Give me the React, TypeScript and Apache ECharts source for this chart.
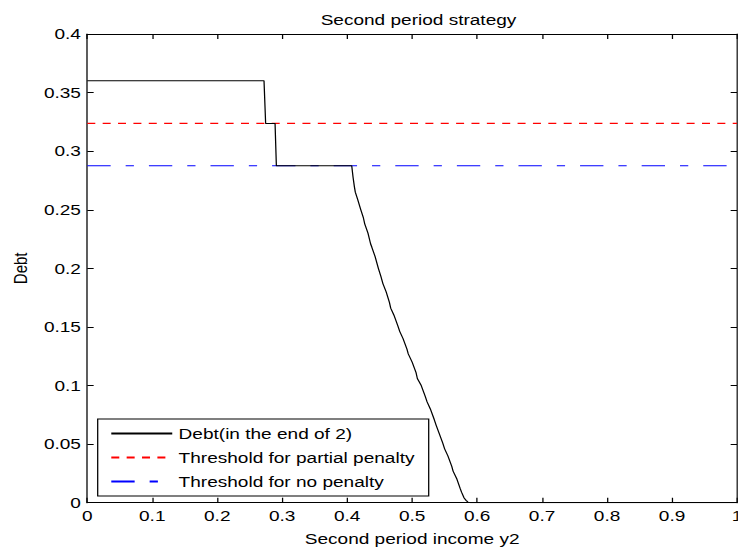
import React, { useEffect, useRef } from "react";
import * as echarts from "echarts";

// ---- data ----
const incomeY2 = [
  0, 0.272, 0.2745, 0.289, 0.291, 0.407, 0.409, 0.411, 0.4125, 0.416, 0.421,
  0.425, 0.427, 0.432, 0.436, 0.438, 0.443, 0.448, 0.452, 0.455, 0.46, 0.465,
  0.467, 0.472, 0.478, 0.481, 0.486, 0.492, 0.494, 0.5, 0.506, 0.508, 0.514,
  0.52, 0.523, 0.528, 0.534, 0.537, 0.541, 0.547, 0.55, 0.555, 0.561, 0.563,
  0.569, 0.574, 0.576, 0.58, 0.583, 0.586, 0.59, 1.0,
];
const debtEnd2 = [
  0.36, 0.36, 0.3237, 0.3237, 0.2875, 0.2875, 0.278, 0.27, 0.265, 0.259, 0.25,
  0.243, 0.238, 0.23, 0.221, 0.218, 0.21, 0.2, 0.193, 0.187, 0.18, 0.171,
  0.166, 0.16, 0.151, 0.146, 0.14, 0.131, 0.127, 0.12, 0.111, 0.106, 0.1,
  0.091, 0.086, 0.08, 0.071, 0.066, 0.06, 0.051, 0.046, 0.04, 0.031, 0.027,
  0.02, 0.012, 0.009, 0.004, 0.002, 0.0005, 0, 0,
];
const partialPenaltyThreshold = 0.3237;
const noPenaltyThreshold = 0.2875;
const xRange = [0, 1];
const xStep = 0.1;
const yRange = [0, 0.4];
const yStep = 0.05;
const seriesNames = [
  "Debt(in the end of 2)",
  "Threshold for partial penalty",
  "Threshold for no penalty",
];

// ---- layout ----
const SCALE_X = 1.27;
const CHART_W = 738 / SCALE_X;
const CHART_H = 553;
const FONT = "'Liberation Sans', Arial, Helvetica, sans-serif";

const fmt = (v: number) => String(Math.round(v * 1000) / 1000);

export default function App() {
  const ref = useRef<HTMLDivElement>(null);

  useEffect(() => {
    if (!ref.current) return;
    const chart = echarts.init(ref.current, undefined, {
      renderer: "svg",
      width: CHART_W,
      height: CHART_H,
    });
    const plotLeft = 87.3 / SCALE_X;
    const plotRight = 737 / SCALE_X;

    const axisCommon = {
      axisLine: { show: true, onZero: false, lineStyle: { color: "#000", width: 1 } },
      axisTick: { show: true, inside: true, length: 5, lineStyle: { color: "#000", width: 1 } },
      splitLine: { show: false },
    };

    const option: any = {
      animation: false,
      backgroundColor: "#fff",
      textStyle: { fontFamily: FONT },
      title: {
        text: "Second period strategy",
        left: (plotLeft + plotRight) / 2,
        top: 7,
        textAlign: "center",
        textStyle: { fontSize: 15, fontWeight: "normal", color: "#000", fontFamily: FONT },
      },
      grid: {
        left: plotLeft,
        right: CHART_W - plotRight,
        top: 34,
        bottom: CHART_H - 502.7,
        containLabel: false,
        outerBoundsMode: "none",
      },
      legend: {
        orient: "vertical",
        left: 97.7 / SCALE_X,
        top: 419,
        align: "left",
        padding: [7, 11, 7, 9.7],
        itemWidth: 48,
        itemHeight: 15,
        itemGap: 9,
        borderColor: "#000",
        borderWidth: 1,
        backgroundColor: "#fff",
        data: seriesNames,
        itemStyle: {
          color: "rgba(0,0,0,0)",
          borderColor: "rgba(0,0,0,0)",
          borderWidth: 0,
        },
        textStyle: { fontSize: 15, color: "#000", fontFamily: FONT },
      },
      xAxis: [
        {
          type: "value",
          min: xRange[0],
          max: xRange[1],
          interval: xStep,
          position: "bottom",
          name: "Second period income y2",
          nameLocation: "middle",
          nameGap: 29,
          nameTextStyle: { fontSize: 15, color: "#000", fontFamily: FONT },
          axisLabel: { fontSize: 15, color: "#000", margin: 6, fontFamily: FONT, formatter: fmt },
          ...axisCommon,
        },
        {
          type: "value",
          min: xRange[0],
          max: xRange[1],
          interval: xStep,
          position: "top",
          axisLabel: { show: false },
          ...axisCommon,
        },
      ],
      yAxis: [
        {
          type: "value",
          min: yRange[0],
          max: yRange[1],
          interval: yStep,
          position: "left",
          name: "Debt",
          nameLocation: "middle",
          nameRotate: 90,
          nameGap: 45.5,
          nameTextStyle: { fontSize: 15, color: "#000", fontFamily: FONT },
          axisLabel: { fontSize: 15, color: "#000", margin: 5, fontFamily: FONT, formatter: fmt },
          ...axisCommon,
        },
        {
          type: "value",
          min: yRange[0],
          max: yRange[1],
          interval: yStep,
          position: "right",
          axisLabel: { show: false },
          ...axisCommon,
        },
      ],
      series: [
        {
          name: seriesNames[0],
          type: "line",
          symbol: "none",
          data: incomeY2.map((x, i) => [x, debtEnd2[i]]),
          lineStyle: { color: "#000", width: 1 },
          itemStyle: { color: "#000" },
          z: 3,
        },
        {
          name: seriesNames[1],
          type: "line",
          symbol: "none",
          data: [
            [xRange[0], partialPenaltyThreshold],
            [xRange[1], partialPenaltyThreshold],
          ],
          lineStyle: { color: "#ff0000", width: 1.2, type: [6.3, 5.8] },
          itemStyle: { color: "#ff0000" },
          z: 2,
        },
        {
          name: seriesNames[2],
          type: "line",
          symbol: "none",
          data: [
            [xRange[0], noPenaltyThreshold],
            [xRange[1], noPenaltyThreshold],
          ],
          lineStyle: { color: "#0000ff", width: 1, type: [18.4, 11.8, 6.5, 11.8] },
          itemStyle: { color: "#0000ff" },
          z: 2,
        },
      ],
    };
    chart.setOption(option);
    return () => chart.dispose();
  }, []);

  return (
    <div
      style={{
        position: "absolute",
        left: 0,
        top: 0,
        width: 738,
        height: 553,
        overflow: "hidden",
        background: "#fff",
      }}
    >
      <div
        ref={ref}
        style={{
          width: CHART_W,
          height: CHART_H,
          transform: `scaleX(${SCALE_X})`,
          transformOrigin: "0 0",
        }}
      />
    </div>
  );
}
